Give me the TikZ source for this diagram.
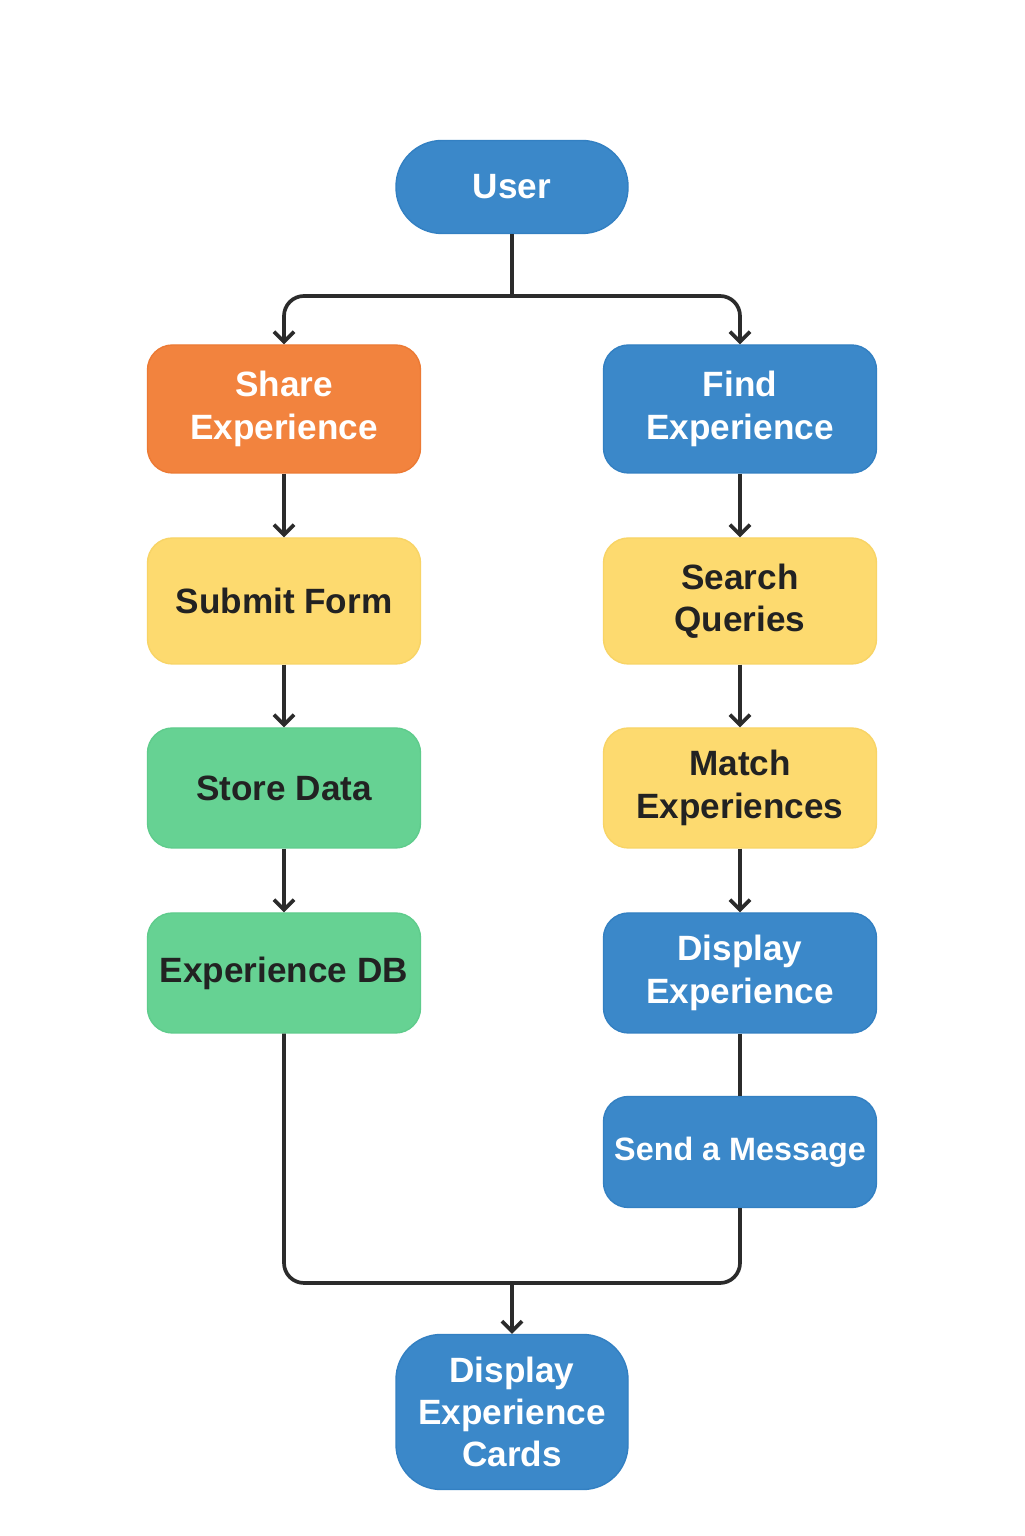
\documentclass[tikz,border=0pt]{standalone}
\usepackage{fontspec}
\setmainfont{Liberation Sans}
\usetikzlibrary{arrows.meta}
\definecolor{boxblue}{HTML}{3B88C9}
\definecolor{edgeblue}{HTML}{3380C2}
\definecolor{boxorange}{HTML}{F2833E}
\definecolor{edgeorange}{HTML}{EC7A34}
\definecolor{boxyellow}{HTML}{FDDA6F}
\definecolor{edgeyellow}{HTML}{F8D466}
\definecolor{boxgreen}{HTML}{66D293}
\definecolor{edgegreen}{HTML}{5FCC8C}
\definecolor{linegray}{HTML}{2B2B2B}
\definecolor{textdark}{HTML}{222222}

\begin{document}
\begin{tikzpicture}[
   box/.style={rounded corners=0.25cm, align=center, inner sep=0pt, line width=0.4pt,
      font=\bfseries\fontsize{10}{12}\selectfont, minimum width=2.73cm},
   bluebox/.style={box, fill=boxblue, draw=edgeblue, text=white},
   orangebox/.style={box, fill=boxorange, draw=edgeorange, text=white},
   yellowbox/.style={box, fill=boxyellow, draw=edgeyellow, text=textdark},
   greenbox/.style={box, fill=boxgreen, draw=edgegreen, text=textdark},
   link/.style={draw=linegray, line width=1.05pt, rounded corners=0.2cm},
   arrow/.style={link, -{Straight Barb[width=0.2cm,length=0.1cm]}}
]
   \useasboundingbox[fill=white] (0,0) rectangle (10.24,15.36);
   % top and bottom
   \node[bluebox, rounded corners=0.46cm, minimum width=2.32cm, minimum height=0.93cm] (user) at (5.12,13.49) {User};
   \node[bluebox, rounded corners=0.45cm, minimum width=2.32cm, minimum height=1.55cm] (cards) at (5.12,1.24) {Display\\Experience\\Cards};
   % left column
   \node[orangebox, minimum height=1.28cm] (share) at (2.84,11.27) {Share\\Experience};
   \node[yellowbox, minimum height=1.26cm] (submit) at (2.84,9.35) {Submit Form};
   \node[greenbox, minimum height=1.20cm] (store) at (2.84,7.48) {Store Data};
   \node[greenbox, minimum height=1.20cm] (expdb) at (2.84,5.63) {Experience DB};
   % right column
   \node[bluebox, minimum height=1.28cm] (find) at (7.40,11.27) {Find\\Experience};
   \node[yellowbox, minimum height=1.26cm] (search) at (7.40,9.35) {Search\\Queries};
   \node[yellowbox, minimum height=1.20cm] (match) at (7.40,7.48) {Match\\Experiences};
   \node[bluebox, minimum height=1.20cm] (display) at (7.40,5.63) {Display\\Experience};
   \node[bluebox, minimum height=1.11cm, font=\bfseries\fontsize{9.2}{11}\selectfont] (send) at (7.40,3.84) {Send a Message};
   \coordinate (split) at (5.12,12.40);
   \coordinate (join) at (5.12,2.53);
   % connectors
   \draw[link] (user) -- (split);
   \draw[arrow] (split) -| (share);
   \draw[arrow] (split) -| (find);
   \draw[arrow] (share) -- (submit);
   \draw[arrow] (submit) -- (store);
   \draw[arrow] (store) -- (expdb);
   \draw[arrow] (find) -- (search);
   \draw[arrow] (search) -- (match);
   \draw[arrow] (match) -- (display);
   \draw[link] (display) -- (send);
   \draw[link] (expdb) |- (join);
   \draw[link] (send) |- (join);
   \draw[arrow] (join) -- (cards);
\end{tikzpicture}
\end{document}
